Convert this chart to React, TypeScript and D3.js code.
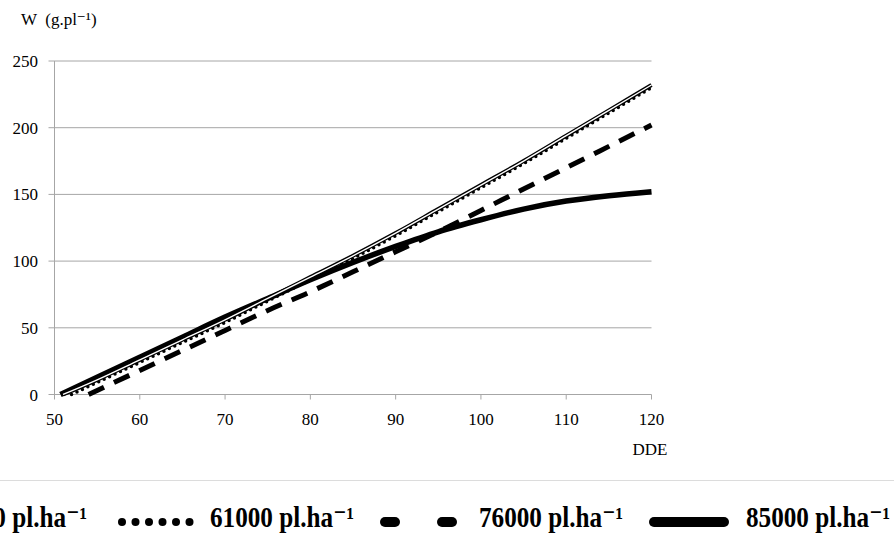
import React, { useLayoutEffect, useRef, useState } from 'react';
import * as d3 from 'd3';

// days after emergence (DDE) shared by all series
const days = [55, 60, 65, 70, 75, 80, 85, 90, 95, 100, 105, 110, 115, 120];

const densities = ['45000', '61000', '76000', '85000'];
const startDays = [51, 52, 54, 50.7];

const w45000 = [11, 26, 41, 56, 72, 88, 104, 121, 139, 157, 175, 194, 213, 232];
const w61000 = [9, 24, 39, 54, 70, 86, 102, 119, 137, 155, 173, 192, 211, 230];
const w76000 = [3, 18, 33, 48, 63, 77, 92, 107, 122, 138, 154, 170, 186, 202];
const w85000 = [13, 28, 43, 58, 72, 86, 99, 111, 122, 131, 139, 145, 149, 152];

const xTicks = [50, 60, 70, 80, 90, 100, 110, 120];
const yTicks = [0, 50, 100, 150, 200, 250];

const W = 894;
const H = 536;
const serif = "'Liberation Serif', 'Times New Roman', 'DejaVu Serif', serif";
const grid = '#a6a6a6';

export default function App() {
    const legendRef = useRef<SVGTextElement>(null);
    const [squeeze, setSqueeze] = useState(0.85);

    // legend text is narrow in the original; squeeze it horizontally to ~144px
    useLayoutEffect(() => {
        if (legendRef.current) {
            const len = legendRef.current.getComputedTextLength();
            if (len > 0) setSqueeze(144 / len);
        }
    }, []);

    const x = d3.scaleLinear().domain([50, 120]).range([54.5, 651.5]);
    const y = d3.scaleLinear().domain([0, 250]).range([394.5, 61]);

    const series = [w45000, w61000, w76000, w85000].map((vals, i) =>
        [[startDays[i], 0], ...days.map((d, j) => [d, vals[j]])]
    );

    const line = d3.line<number[]>()
        .x(d => x(d[0]))
        .y(d => y(d[1]))
        .curve(d3.curveMonotoneX);

    const legendX = [-150, 117, 380, 649];
    const legendTextX = [-57, 210, 479, 746];
    const legendY = 522;

    return (
        <svg width={W} height={H} style={{ position: 'absolute', left: 0, top: 0, background: '#fff', fontFamily: serif }}>
            {/* gridlines */}
            {yTicks.map(t => (
                <line key={'g' + t} x1={x(50) - 6} x2={x(120)} y1={y(t)} y2={y(t)} stroke={grid} strokeWidth={1} />
            ))}
            <line x1={x(50)} x2={x(50)} y1={y(250)} y2={y(0)} stroke={grid} />
            {xTicks.map(t => (
                <line key={'xt' + t} x1={x(t)} x2={x(t)} y1={y(0)} y2={y(0) + 5} stroke={grid} />
            ))}

            {/* tick labels */}
            {yTicks.map(t => (
                <text key={'yl' + t} x={38} y={y(t) + 6} textAnchor="end" style={{ fontFamily: serif, fontSize: 17 }}>{t}</text>
            ))}
            {xTicks.map(t => (
                <text key={'xl' + t} x={x(t)} y={425} textAnchor="middle" style={{ fontFamily: serif, fontSize: 17 }}>{t}</text>
            ))}
            <text x={650} y={455} textAnchor="middle" style={{ fontFamily: serif, fontSize: 17 }}>DDE</text>
            <text x={21} y={25} style={{ fontFamily: serif, fontSize: 17, whiteSpace: 'pre' }}>W  (g.pl⁻¹)</text>

            {/* curves */}
            <path d={line(series[3]) || ''} fill="none" stroke="#000" strokeWidth={5.5} />
            <path d={line(series[2]) || ''} fill="none" stroke="#000" strokeWidth={5} strokeDasharray="17 11" />
            <path d={line(series[1]) || ''} fill="none" stroke="#000" strokeWidth={3.5} strokeDasharray="0 6" strokeLinecap="round" />
            <path d={line(series[0]) || ''} fill="none" stroke="#000" strokeWidth={4} />
            <path d={line(series[0]) || ''} fill="none" stroke="#fff" strokeWidth={1.4} />

            {/* separator */}
            <line x1={0} x2={W} y1={480.5} y2={480.5} stroke="#dcdcdc" />

            {/* legend */}
            <line x1={legendX[0]} x2={legendX[0] + 80} y1={legendY} y2={legendY} stroke="#000" strokeWidth={3} />
            {d3.range(6).map(k => (
                <circle key={'dot' + k} cx={legendX[1] + 5 + k * 13.5} cy={legendY} r={4} fill="#000" />
            ))}
            <line x1={legendX[2] + 5} x2={legendX[2] + 15} y1={legendY} y2={legendY} stroke="#000" strokeWidth={10} strokeLinecap="round" />
            <line x1={legendX[2] + 62} x2={legendX[2] + 72} y1={legendY} y2={legendY} stroke="#000" strokeWidth={10} strokeLinecap="round" />
            <line x1={legendX[3] + 5} x2={legendX[3] + 75} y1={legendY} y2={legendY} stroke="#000" strokeWidth={10} strokeLinecap="round" />
            {densities.map((d, i) => (
                <g key={'lt' + d} transform={`translate(${legendTextX[i]},527) scale(${squeeze},1)`}>
                    <text ref={i === 3 ? legendRef : undefined} x={0} y={0}
                        style={{ fontFamily: serif, fontWeight: 'bold', fontSize: 29 }}>
                        {d + ' pl.ha⁻¹'}
                    </text>
                </g>
            ))}
        </svg>
    );
}
